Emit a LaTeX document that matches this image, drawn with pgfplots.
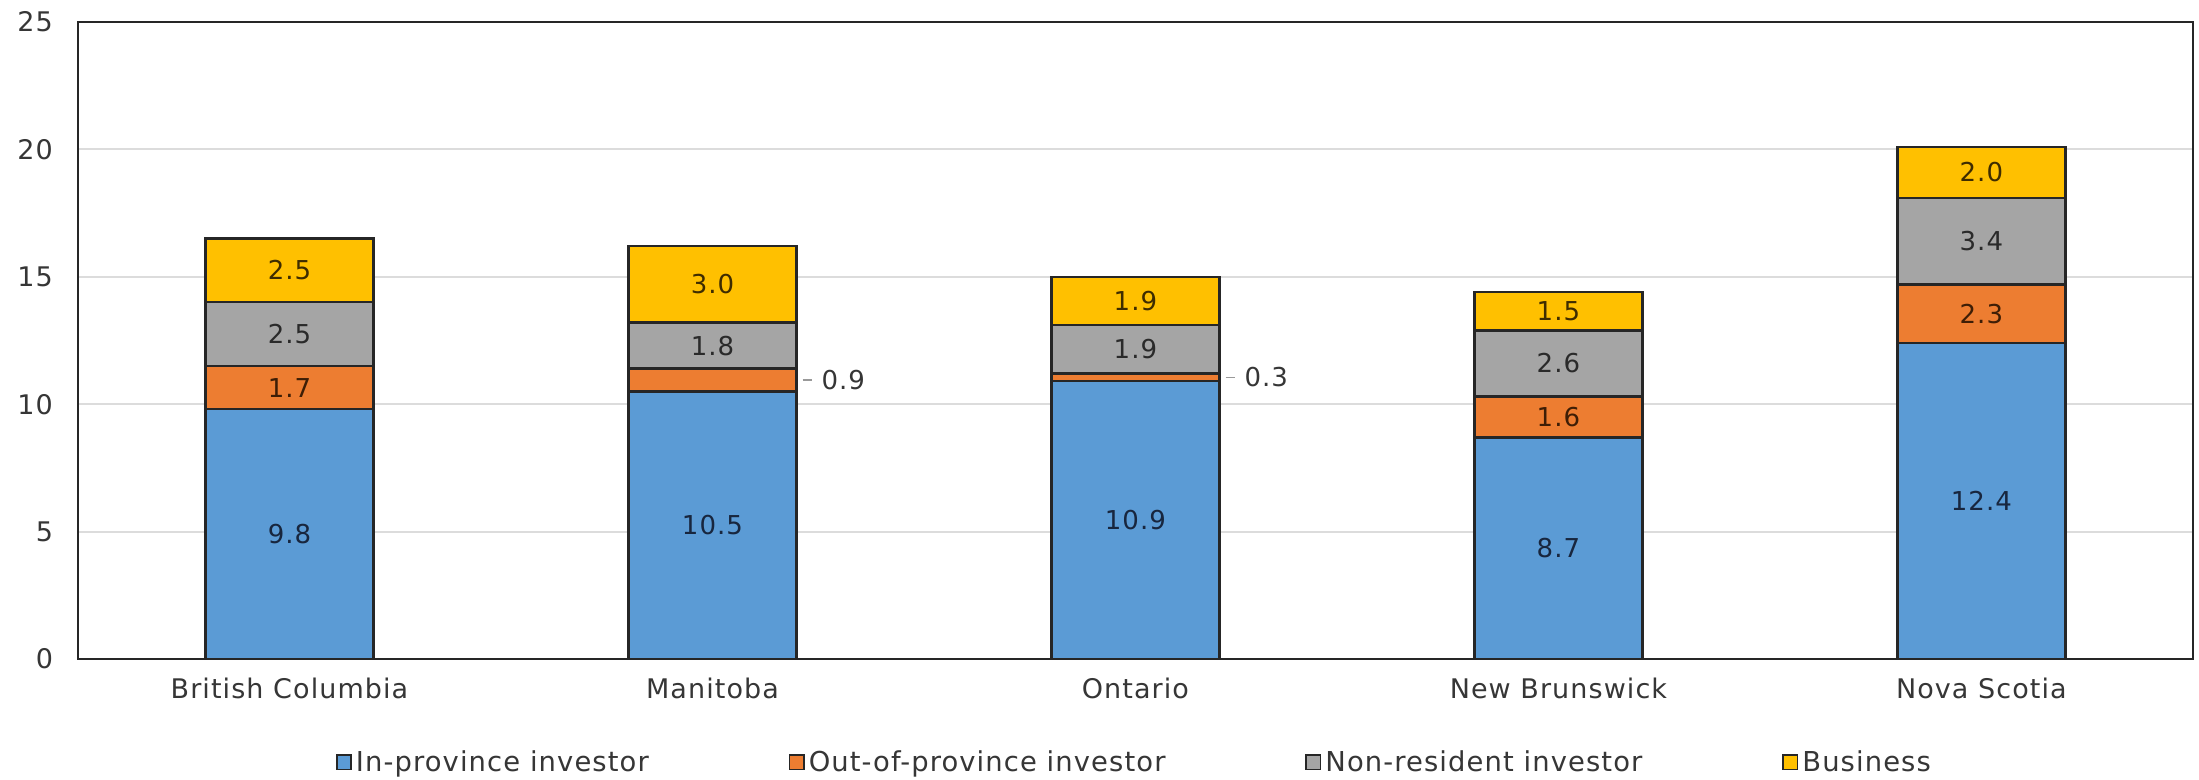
\documentclass[border=0pt]{standalone}
\usepackage{fontspec}
\setmainfont{DejaVu Sans}[LetterSpace=4]
\usepackage{pgfplots}
\usepackage{pgfplotstable}
\pgfplotsset{compat=1.18}

\definecolor{inprov}{HTML}{5B9BD5}
\definecolor{outprov}{HTML}{ED7D31}
\definecolor{nonres}{HTML}{A5A5A5}
\definecolor{business}{HTML}{FFC000}
\definecolor{edge}{HTML}{262626}
\definecolor{gridgray}{HTML}{DCDCDC}
\definecolor{labelgray}{HTML}{363636}
\definecolor{intext}{HTML}{18263E}
\definecolor{outtext}{HTML}{3E1E06}
\definecolor{nonrestext}{HTML}{2A2A2A}
\definecolor{bustext}{HTML}{3E2C00}

% Immigrant-investor shares by province (per cent)
\pgfplotstableread{
x  in    out  nonres  bus
0  9.8   1.7  2.5     2.5
1  10.5  0.9  1.8     3.0
2  10.9  0.3  1.9     1.9
3  8.7   1.6  2.6     1.5
4  12.4  2.3  3.4     2.0
}\shares

\pgfplotsset{
  frame/.style={
    at={(39pt,60.5pt)}, anchor=south west,
    scale only axis, width=1057.5pt, height=318.5pt,
    xmin=-0.5, xmax=4.5, ymin=0, ymax=25,
  },
  segment/.style={
    fill=#1, draw=edge, line width=1.2pt,
    legend image code/.code={\draw[fill=#1,draw=edge,line width=0.8pt] (0pt,-3.6pt) rectangle (7.2pt,3.6pt);},
  },
  seglabel/.style={
    draw=none, mark=none, nodes near coords={\pgfplotspointmeta},
    point meta=explicit symbolic,
    every node near coord/.append style={anchor=center, text=#1,
      font=\fontsize{13}{15}\selectfont},
  },
}

\begin{document}
\begin{tikzpicture}
\path[use as bounding box] (0,0) rectangle (1099.5pt,390pt);

\begin{axis}[frame,
  ybar stacked, bar width=0.397,
  ytick={0,5,...,25}, xtick={0,...,4},
  xticklabels={British Columbia, Manitoba, Ontario, New Brunswick, Nova Scotia},
  major tick length=0pt,
  /pgf/number format/assume math mode=true,
  ymajorgrids, grid style={gridgray, line width=1pt},
  axis line style={edge, line width=1.2pt},
  tick label style={text=labelgray, font=\fontsize{13.5}{16}\selectfont},
  yticklabel style={xshift=-9pt},
  xticklabel style={yshift=-6pt},
  legend columns=4,
  legend style={at={(0.5,-0.162)}, anchor=center, draw=none,
    font=\fontsize{13.7}{16}\selectfont, text=labelgray,
    /tikz/every even column/.append style={column sep=68pt}},
]
\addplot[segment=inprov]   table[x=x, y=in]     {\shares};
\addplot[segment=outprov]  table[x=x, y=out]    {\shares};
\addplot[segment=nonres]   table[x=x, y=nonres] {\shares};
\addplot[segment=business] table[x=x, y=bus]    {\shares};
\legend{In-province investor, Out-of-province investor, Non-resident investor, Business}
\end{axis}

\begin{axis}[frame, hide axis]
% values centred in their segments
\addplot[seglabel=intext] table[x=x, y expr=\thisrow{in}/2, meta=in] {\shares};
\addplot[seglabel=outtext, skip coords between index={1}{3}]
  table[x=x, y expr=\thisrow{in}+\thisrow{out}/2, meta=out] {\shares};
\addplot[seglabel=nonrestext]
  table[x=x, y expr=\thisrow{in}+\thisrow{out}+\thisrow{nonres}/2, meta=nonres] {\shares};
\addplot[seglabel=bustext]
  table[x=x, y expr=\thisrow{in}+\thisrow{out}+\thisrow{nonres}+\thisrow{bus}/2, meta=bus] {\shares};
% thin segments: value set beside the bar with a short leader
\addplot[draw=none, mark=none, point meta=explicit symbolic,
  skip coords between index={0}{1}, skip coords between index={3}{5},
  nodes near coords={\textcolor{black!40}{\rule[0.33em]{4.5pt}{0.8pt}}\hspace{5pt}\pgfplotspointmeta},
  every node near coord/.append style={anchor=west, inner sep=0pt, text=labelgray,
    font=\fontsize{13}{15}\selectfont}]
  table[x expr=\thisrow{x}+0.212, y expr=\thisrow{in}+\thisrow{out}/2, meta=out] {\shares};
\end{axis}
\end{tikzpicture}
\end{document}
